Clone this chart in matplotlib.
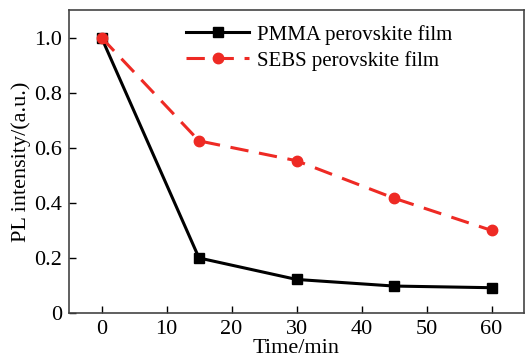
import matplotlib
matplotlib.use("Agg")
import matplotlib.pyplot as plt

# data
time_min = [0, 15, 30, 45, 60]
pmma = [1.0, 0.20, 0.122, 0.098, 0.092]
sebs = [1.0, 0.625, 0.553, 0.417, 0.30]
yticks = [0, 0.2, 0.4, 0.6, 0.8, 1.0]
ytick_labels = ['0', '0.2', '0.4', '0.6', '0.8', '1.0']


def main():
    plt.rcParams['font.family'] = ['Liberation Serif', 'DejaVu Serif']

    fig = plt.figure(figsize=(5.32, 3.59), dpi=100)
    ax = fig.add_axes([0.1297, 0.128, 0.8553, 0.844])

    ax.plot(time_min, pmma, color='black', linewidth=2.2, marker='s',
            markersize=7, label='PMMA perovskite film')
    ax.plot(time_min, sebs, color='#ee2a24', linewidth=2.2, linestyle=(0, (6, 3.5)),
            marker='o', markersize=7.5, label='SEBS perovskite film')

    ax.set_xlim(-5, 65)
    ax.set_ylim(0, 1.1)
    ax.set_xticks(range(0, 61, 10))
    ax.set_yticks(yticks, ytick_labels)
    ax.tick_params(direction='in', labelsize=16, length=5, width=1, pad=5)
    for spine in ax.spines.values():
        spine.set_linewidth(1.2)
        spine.set_color('#444444')

    ax.set_xlabel('Time/min', fontsize=16, labelpad=0)
    ax.set_ylabel('PL intensity/(a.u.)', fontsize=16, labelpad=2)

    ax.legend(loc='upper right', frameon=False, fontsize=15, handlelength=3.0,
              handletextpad=0.4, labelspacing=0.3, borderaxespad=0.3,
              bbox_to_anchor=(0.875, 1.0))

    fig.savefig('out.png', dpi=100)


if __name__ == "__main__":
    main()
